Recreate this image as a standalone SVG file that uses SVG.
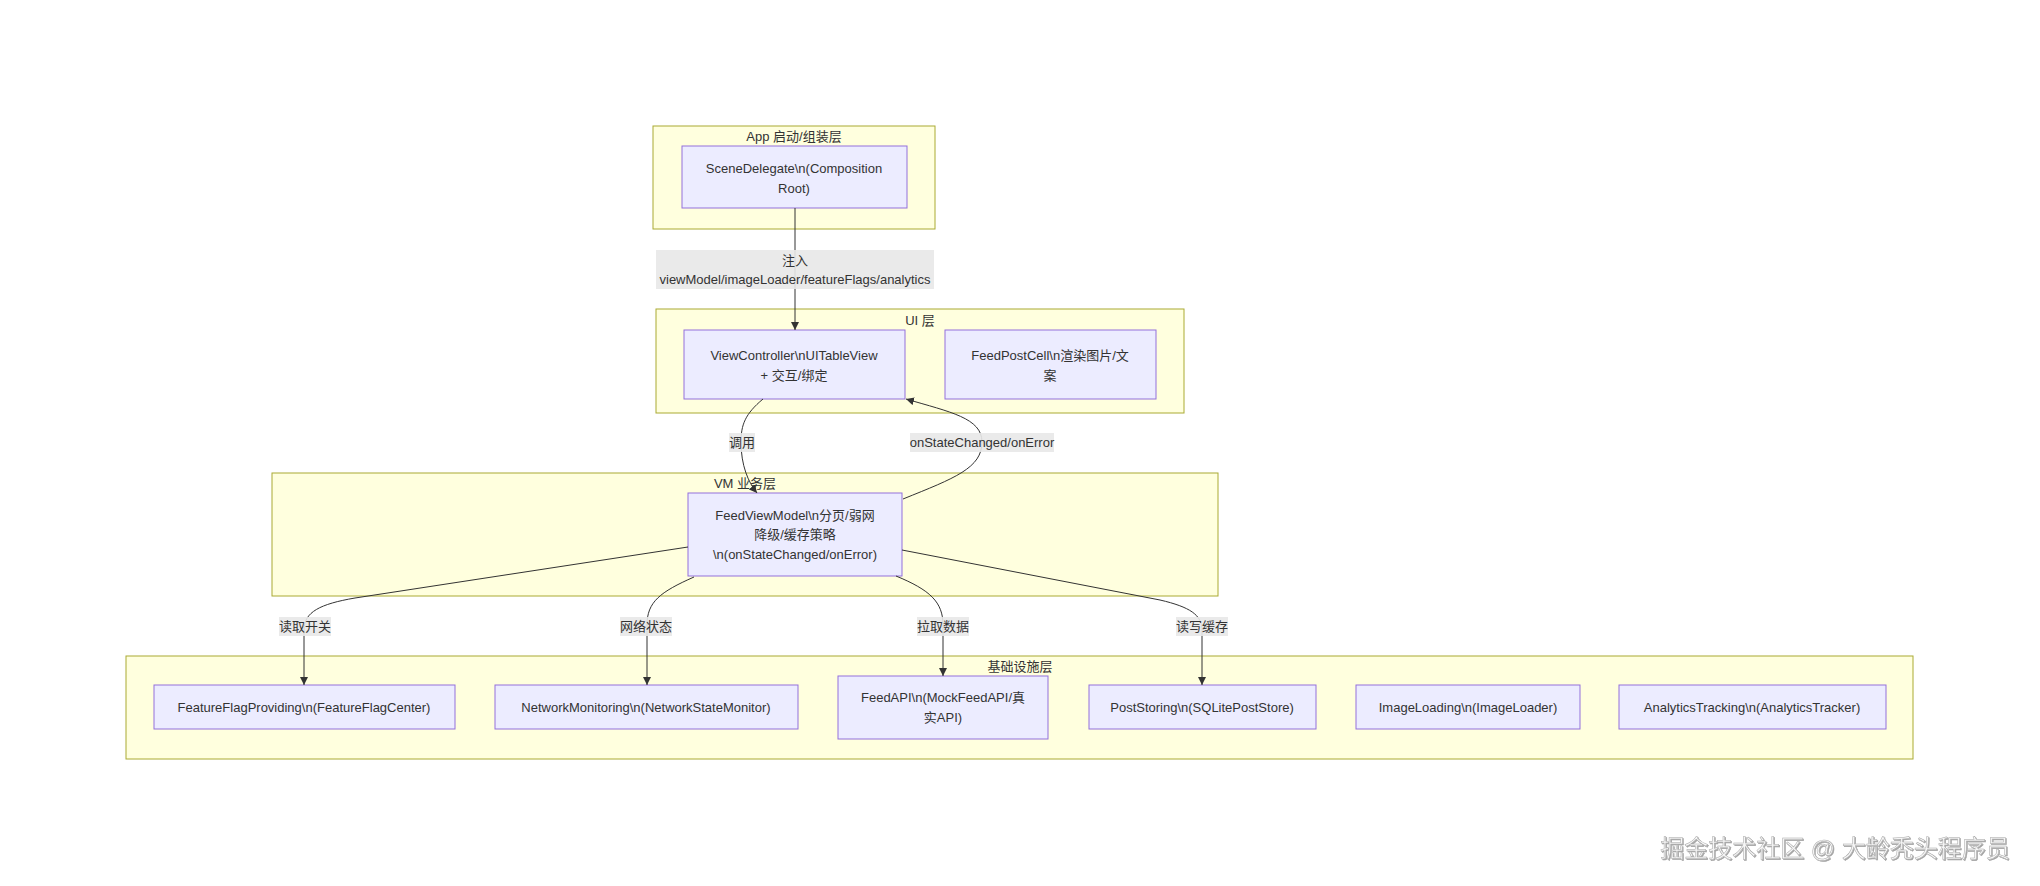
<svg xmlns="http://www.w3.org/2000/svg" width="2040" height="886" viewBox="0 0 2040 886">
<style>
text{font-family:"Liberation Sans","Noto Sans CJK SC",sans-serif;font-size:13px;fill:#333;text-anchor:middle;dominant-baseline:central}
.cluster{fill:#ffffde;stroke:#aaaa33;stroke-width:1}
.node rect{fill:#ececff;stroke:#9370db;stroke-width:1}
.edge{fill:none;stroke:#333;stroke-width:1;marker-end:url(#arrow)}
.lbl{fill:#e8e8e8;opacity:0.9}
.wm{font-size:24px;fill:#f6f6f6;stroke:#a8a8a8;stroke-width:0.5;filter:url(#sh)}
</style>
<defs>
<marker id="arrow" viewBox="0 0 10 10" refX="10" refY="5" markerWidth="8" markerHeight="8" markerUnits="userSpaceOnUse" orient="auto">
<path d="M0,0 L10,5 L0,10 z" fill="#333"/>
</marker>
<filter id="sh" x="-5%" y="-20%" width="110%" height="150%">
<feDropShadow dx="1" dy="1" stdDeviation="0.6" flood-color="#666" flood-opacity="0.6"/>
</filter>
</defs>
<rect width="2040" height="886" fill="#fff"/>

<g id="clusters">
<g id="cluster-app"><rect class="cluster" x="653" y="126" width="282" height="103"/><text x="794" y="136">App 启动/组装层</text></g>
<g id="cluster-ui"><rect class="cluster" x="656" y="309" width="528" height="104"/><text x="920" y="320">UI 层</text></g>
<g id="cluster-vm"><rect class="cluster" x="272" y="473" width="946" height="123"/><text x="745" y="483">VM 业务层</text></g>
<g id="cluster-infra"><rect class="cluster" x="126" y="656" width="1787" height="103"/><text x="1020" y="666">基础设施层</text></g>
</g>

<g id="node-scene" class="node"><rect x="682" y="146" width="225" height="62"/><text x="794" y="168">SceneDelegate\n(Composition</text><text x="794" y="188">Root)</text></g>
<g id="node-vc" class="node"><rect x="684" y="330" width="221" height="69"/><text x="794" y="355">ViewController\nUITableView</text><text x="794" y="375">+ 交互/绑定</text></g>
<g id="node-cell" class="node"><rect x="945" y="330" width="211" height="69"/><text x="1050" y="355">FeedPostCell\n渲染图片/文</text><text x="1050" y="375">案</text></g>
<g id="node-vm" class="node"><rect x="688" y="493" width="214" height="83"/><text x="795" y="515">FeedViewModel\n分页/弱网</text><text x="795" y="534">降级/缓存策略</text><text x="795" y="554">\n(onStateChanged/onError)</text></g>
<g id="node-ff" class="node"><rect x="154" y="685" width="301" height="44"/><text x="304" y="707">FeatureFlagProviding\n(FeatureFlagCenter)</text></g>
<g id="node-nm" class="node"><rect x="495" y="685" width="303" height="44"/><text x="646" y="707">NetworkMonitoring\n(NetworkStateMonitor)</text></g>
<g id="node-api" class="node"><rect x="838" y="676" width="210" height="63"/><text x="943" y="697">FeedAPI\n(MockFeedAPI/真</text><text x="943" y="717">实API)</text></g>
<g id="node-store" class="node"><rect x="1089" y="685" width="227" height="44"/><text x="1202" y="707">PostStoring\n(SQLitePostStore)</text></g>
<g id="node-img" class="node"><rect x="1356" y="685" width="224" height="44"/><text x="1468" y="707">ImageLoading\n(ImageLoader)</text></g>
<g id="node-ana" class="node"><rect x="1619" y="685" width="267" height="44"/><text x="1752" y="707">AnalyticsTracking\n(AnalyticsTracker)</text></g>

<g id="connectors">
<path class="edge" d="M795,208 L795,330"/>
<path class="edge" d="M763,399 C745,414 741,425 741,442 C741,465 748,482 757,493"/>
<path class="edge" d="M903,499 C955,478 982,468 982,442 C982,418 950,412 906,399"/>
<path class="edge" d="M688,547 L355,598 C320,604 304,612 304,630 L304,685"/>
<path class="edge" d="M694,577 C660,592 647,602 647,625 L647,685"/>
<path class="edge" d="M896,576 C930,590 943,602 943,625 L943,676"/>
<path class="edge" d="M902,550 L1160,600 C1190,607 1202,615 1202,630 L1202,685"/>
<g id="edge-labels">
<rect class="lbl" x="656" y="250" width="278" height="39"/><text x="795" y="260">注入</text><text x="795" y="279">viewModel/imageLoader/featureFlags/analytics</text>
<rect class="lbl" x="729" y="433" width="26" height="19"/><text x="742" y="442">调用</text>
<rect class="lbl" x="910" y="433" width="144" height="19"/><text x="982" y="442">onStateChanged/onError</text>
<rect class="lbl" x="279" y="617" width="52" height="19"/><text x="305" y="626">读取开关</text>
<rect class="lbl" x="620" y="617" width="52" height="19"/><text x="646" y="626">网络状态</text>
<rect class="lbl" x="917" y="617" width="52" height="19"/><text x="943" y="626">拉取数据</text>
<rect class="lbl" x="1176" y="617" width="52" height="19"/><text x="1202" y="626">读写缓存</text>
</g>
</g>

<text class="wm" x="1835" y="848">掘金技术社区 @ 大龄秃头程序员</text>
</svg>
